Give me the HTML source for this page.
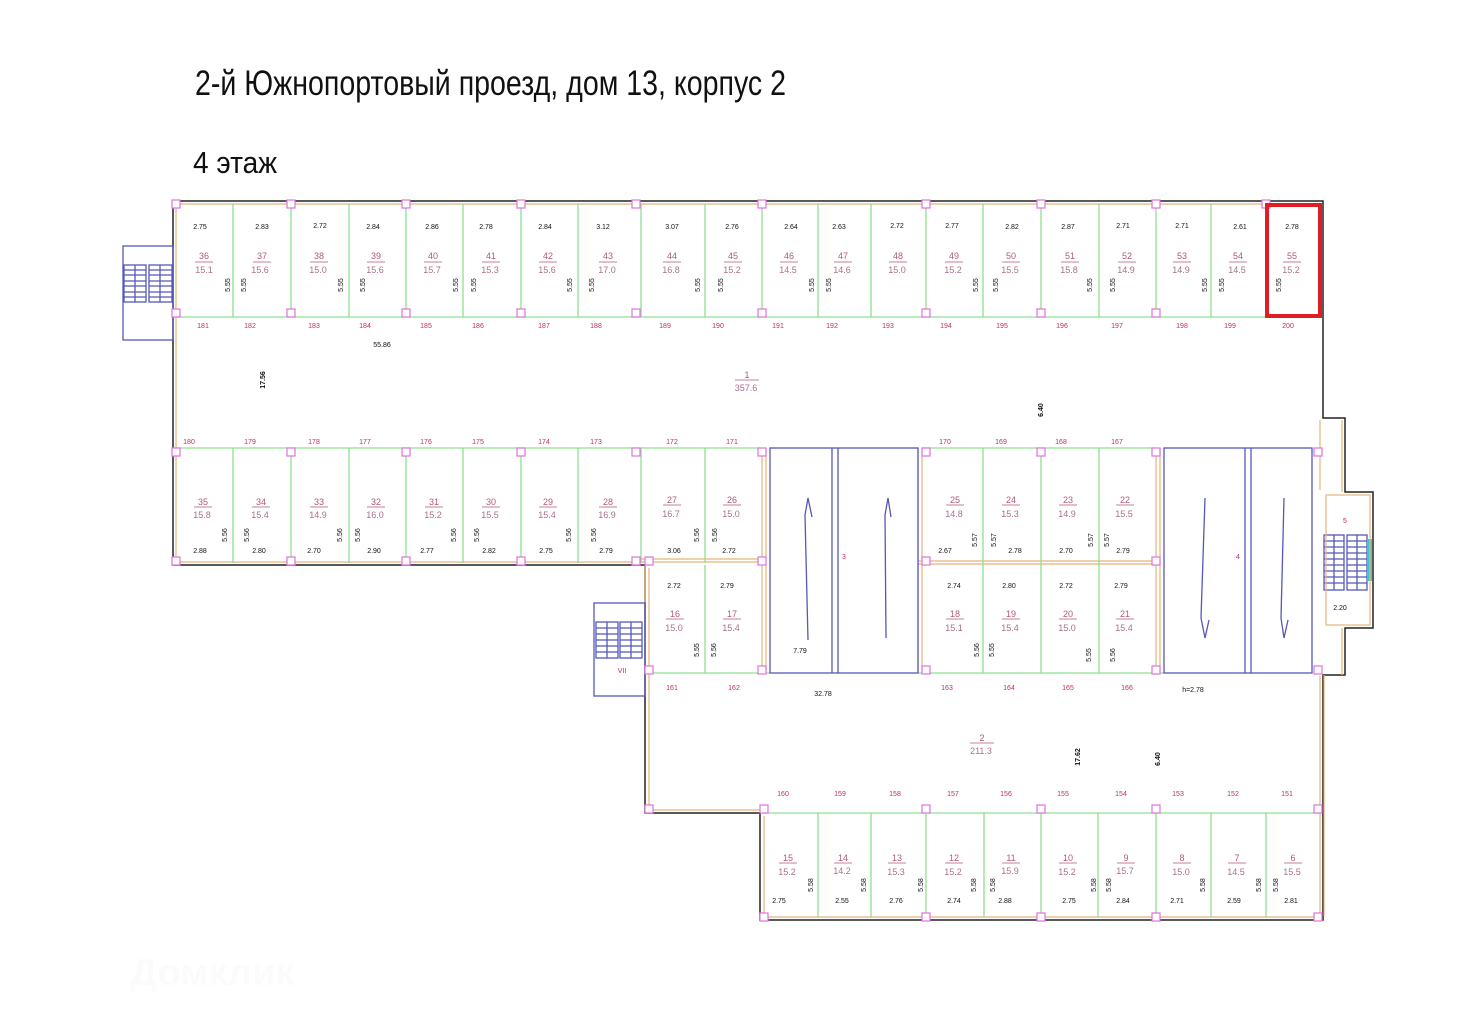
<!DOCTYPE html>
<html><head><meta charset="utf-8"><style>
html,body{margin:0;padding:0;background:#fff;}
svg{display:block;}
.t{font-family:"Liberation Sans",sans-serif;}
.n{font-size:9px;fill:#b05a78;text-anchor:middle;font-family:"Liberation Sans",sans-serif;}
.a{font-size:9px;fill:#a87090;text-anchor:middle;font-family:"Liberation Sans",sans-serif;}
.d{font-size:7px;fill:#111;text-anchor:middle;font-family:"Liberation Sans",sans-serif;}
.c{font-size:7px;fill:#c03050;text-anchor:middle;font-family:"Liberation Sans",sans-serif;}
.g{stroke:#8ee08e;stroke-width:1.3;}
.o{stroke:#e6b47a;fill:none;stroke-width:1.2;}
.b{stroke:#5558b8;fill:none;stroke-width:1.3;}
.p{fill:#fff;stroke:#e070e0;stroke-width:1.2;}
.u{stroke:#b05a78;stroke-width:0.8;}
</style></head><body>
<svg width="1467" height="1035" viewBox="0 0 1467 1035" xmlns="http://www.w3.org/2000/svg">
<text class="t" x="195" y="95" font-size="35" textLength="591" lengthAdjust="spacingAndGlyphs" fill="#111">2-й Южнопортовый проезд, дом 13, корпус 2</text>
<text class="t" x="193" y="173" font-size="31" textLength="84" lengthAdjust="spacingAndGlyphs" fill="#111">4 этаж</text>

<g fill="none" stroke="#222" stroke-width="1.5">
<path d="M173,201 H1323 V418 H1345 V492 H1373 V628 H1345 V675 H1323 V920 H760 V813 H645 V565 H173 Z"/>
</g>
<g class="o">
<path d="M176,204 H1320 V317"/><path d="M176,204 V562 H641"/>
<path d="M649,568 V810 H760"/><path d="M764,816 V917 H1320 V676"/>
<path d="M1320,420 V490 M1342,420 V492 M1324,675 V916 M1342,628 V675"/>
<path d="M641,562 H762 M645,565 V673"/>
<path d="M762,448 V673 M766,448 V673 M918,448 V673 M922,448 V673 M1156,448 V673 M1160,448 V673"/>
<path d="M918,561 H1160 M918,564 H1160 M641,559 H762"/>
</g>
<g class="g">
<path d="M176,317 H1320 M176,448 H762 M922,448 H1156 M645,673 H770 M918,673 H1164 M764,813 H1320"/>
<path d="M233,204V317 M291,204V317 M349,204V317 M406,204V317 M463,204V317 M521,204V317 M578,204V317 M641,204V317 M705,204V317 M762,204V317 M818,204V317 M871,204V317 M926,204V317 M983,204V317 M1041,204V317 M1099,204V317 M1156,204V317 M1211,204V317 M1267,204V317"/>
<path d="M233,448V563 M291,448V563 M349,448V563 M406,448V563 M463,448V563 M521,448V563 M578,448V563 M641,448V563 M705,448V563"/>
<path d="M983,448V673 M1041,448V673 M1099,448V673 M705,565V673"/>
<path d="M818,813V917 M871,813V917 M926,813V917 M984,813V917 M1041,813V917 M1098,813V917 M1156,813V917 M1211,813V917 M1266,813V917"/>
</g>
<g class="b">
<rect x="770" y="448" width="148" height="225"/><path d="M832,448V673 M838,448V673"/>
<rect x="1164" y="448" width="148" height="225"/><path d="M1245,448V673 M1251,448V673"/>
<path d="M808,640 L805,515 L808,498 L812,517"/><path d="M886,638 L885,515 L888,498 L891,517"/>
<path d="M1205,498 L1201,618 L1205,638 L1209,620"/><path d="M1284,498 L1281,618 L1284,638 L1288,620"/>
<rect x="123" y="246" width="50" height="94"/>
<rect x="124" y="265" width="22" height="37"/><rect x="149" y="265" width="23" height="37"/>
<path d="M124,270H146M124,275H146M124,281H146M124,286H146M124,292H146M124,297H146M149,270H172M149,275H172M149,281H172M149,286H172M149,292H172M149,297H172M135,265V302M160,265V302"/>
<rect x="594" y="603" width="51" height="93"/>
<rect x="596" y="622" width="22" height="36"/><rect x="620" y="622" width="22" height="36"/>
<path d="M596,628H618M596,634H618M596,640H618M596,646H618M596,652H618M620,628H642M620,634H642M620,640H642M620,646H642M620,652H642M607,622V658M631,622V658"/>
<rect x="1324" y="535" width="20" height="55"/><rect x="1347" y="535" width="20" height="55"/>
<path d="M1324,541H1344M1324,547H1344M1324,553H1344M1324,559H1344M1324,565H1344M1324,571H1344M1324,577H1344M1324,583H1344M1347,541H1367M1347,547H1367M1347,553H1367M1347,559H1367M1347,565H1367M1347,571H1367M1347,577H1367M1347,583H1367M1334,535V590M1357,535V590"/>
</g>
<rect x="1367" y="539" width="5" height="42" fill="#3cc8c8"/>
<rect x="1326" y="495" width="44" height="130" class="o"/>
<g class="p">
<rect x="172" y="200" width="8" height="8"/><rect x="287" y="200" width="8" height="8"/><rect x="402" y="200" width="8" height="8"/><rect x="517" y="200" width="8" height="8"/><rect x="632" y="200" width="8" height="8"/><rect x="758" y="200" width="8" height="8"/><rect x="922" y="200" width="8" height="8"/><rect x="1037" y="200" width="8" height="8"/><rect x="1152" y="200" width="8" height="8"/><rect x="1262" y="200" width="8" height="8"/>
<rect x="172" y="309" width="8" height="8"/><rect x="287" y="309" width="8" height="8"/><rect x="402" y="309" width="8" height="8"/><rect x="517" y="309" width="8" height="8"/><rect x="632" y="309" width="8" height="8"/><rect x="758" y="309" width="8" height="8"/><rect x="922" y="309" width="8" height="8"/><rect x="1037" y="309" width="8" height="8"/><rect x="1152" y="309" width="8" height="8"/>
<rect x="172" y="448" width="8" height="8"/><rect x="287" y="448" width="8" height="8"/><rect x="402" y="448" width="8" height="8"/><rect x="517" y="448" width="8" height="8"/><rect x="632" y="448" width="8" height="8"/><rect x="758" y="448" width="8" height="8"/><rect x="922" y="448" width="8" height="8"/><rect x="1037" y="448" width="8" height="8"/><rect x="1152" y="448" width="8" height="8"/><rect x="1314" y="448" width="8" height="8"/>
<rect x="172" y="557" width="8" height="8"/><rect x="287" y="557" width="8" height="8"/><rect x="402" y="557" width="8" height="8"/><rect x="517" y="557" width="8" height="8"/><rect x="632" y="557" width="8" height="8"/><rect x="645" y="557" width="8" height="8"/><rect x="758" y="557" width="8" height="8"/><rect x="922" y="557" width="8" height="8"/><rect x="1152" y="557" width="8" height="8"/>
<rect x="645" y="666" width="8" height="8"/><rect x="758" y="666" width="8" height="8"/><rect x="922" y="666" width="8" height="8"/><rect x="1152" y="666" width="8" height="8"/><rect x="1314" y="666" width="8" height="8"/>
<rect x="645" y="805" width="8" height="8"/><rect x="760" y="805" width="8" height="8"/><rect x="922" y="805" width="8" height="8"/><rect x="1037" y="805" width="8" height="8"/><rect x="1152" y="805" width="8" height="8"/><rect x="1314" y="805" width="8" height="8"/>
<rect x="760" y="913" width="8" height="8"/><rect x="922" y="913" width="8" height="8"/><rect x="1037" y="913" width="8" height="8"/><rect x="1152" y="913" width="8" height="8"/><rect x="1314" y="913" width="8" height="8"/>
</g>
<rect x="1267" y="205" width="53" height="111" fill="none" stroke="#e01c24" stroke-width="4"/>

<g>
<text class="d" x="200" y="229">2.75</text><text class="d" x="262" y="229">2.83</text><text class="d" x="320" y="228">2.72</text><text class="d" x="373" y="229">2.84</text><text class="d" x="432" y="229">2.86</text><text class="d" x="486" y="229">2.78</text><text class="d" x="545" y="229">2.84</text><text class="d" x="603" y="229">3.12</text><text class="d" x="672" y="229">3.07</text><text class="d" x="732" y="229">2.76</text><text class="d" x="791" y="229">2.64</text><text class="d" x="839" y="229">2.63</text><text class="d" x="897" y="228">2.72</text><text class="d" x="952" y="228">2.77</text><text class="d" x="1012" y="229">2.82</text><text class="d" x="1068" y="229">2.87</text><text class="d" x="1123" y="228">2.71</text><text class="d" x="1182" y="228">2.71</text><text class="d" x="1240" y="229">2.61</text><text class="d" x="1292" y="229">2.78</text>
</g>
<g>
<text class="n" x="204" y="259">36</text><text class="n" x="262" y="259">37</text><text class="n" x="319" y="259">38</text><text class="n" x="376" y="259">39</text><text class="n" x="433" y="259">40</text><text class="n" x="491" y="259">41</text><text class="n" x="548" y="259">42</text><text class="n" x="608" y="259">43</text><text class="n" x="672" y="259">44</text><text class="n" x="733" y="259">45</text><text class="n" x="789" y="259">46</text><text class="n" x="843" y="259">47</text><text class="n" x="898" y="259">48</text><text class="n" x="954" y="259">49</text><text class="n" x="1011" y="259">50</text><text class="n" x="1070" y="259">51</text><text class="n" x="1127" y="259">52</text><text class="n" x="1182" y="259">53</text><text class="n" x="1238" y="259">54</text><text class="n" x="1292" y="259">55</text>
<text class="a" x="204" y="273">15.1</text><text class="a" x="260" y="273">15.6</text><text class="a" x="318" y="273">15.0</text><text class="a" x="375" y="273">15.6</text><text class="a" x="432" y="273">15.7</text><text class="a" x="490" y="273">15.3</text><text class="a" x="547" y="273">15.6</text><text class="a" x="607" y="273">17.0</text><text class="a" x="671" y="273">16.8</text><text class="a" x="732" y="273">15.2</text><text class="a" x="788" y="273">14.5</text><text class="a" x="842" y="273">14.6</text><text class="a" x="897" y="273">15.0</text><text class="a" x="953" y="273">15.2</text><text class="a" x="1010" y="273">15.5</text><text class="a" x="1069" y="273">15.8</text><text class="a" x="1126" y="273">14.9</text><text class="a" x="1181" y="273">14.9</text><text class="a" x="1237" y="273">14.5</text><text class="a" x="1291" y="273">15.2</text>
</g>
<g class="u"><path d="M195,262h18M253,262h18M310,262h18M367,262h18M424,262h18M482,262h18M539,262h18M599,262h18M663,262h18M724,262h18M780,262h18M834,262h18M889,262h18M945,262h18M1002,262h18M1061,262h18M1118,262h18M1173,262h18M1229,262h18M1283,262h18"/></g>
<g class="d">
<text transform="translate(230,285) rotate(-90)">5.55</text><text transform="translate(246,285) rotate(-90)">5.55</text><text transform="translate(343,285) rotate(-90)">5.55</text><text transform="translate(365,285) rotate(-90)">5.55</text><text transform="translate(458,285) rotate(-90)">5.55</text><text transform="translate(476,285) rotate(-90)">5.55</text><text transform="translate(572,285) rotate(-90)">5.55</text><text transform="translate(594,285) rotate(-90)">5.55</text><text transform="translate(700,285) rotate(-90)">5.55</text><text transform="translate(723,285) rotate(-90)">5.55</text><text transform="translate(814,285) rotate(-90)">5.55</text><text transform="translate(831,285) rotate(-90)">5.55</text><text transform="translate(978,285) rotate(-90)">5.55</text><text transform="translate(998,285) rotate(-90)">5.55</text><text transform="translate(1092,285) rotate(-90)">5.55</text><text transform="translate(1115,285) rotate(-90)">5.55</text><text transform="translate(1207,285) rotate(-90)">5.55</text><text transform="translate(1224,285) rotate(-90)">5.55</text><text transform="translate(1281,285) rotate(-90)">5.55</text>
</g>
<g>
<text class="c" x="203" y="328">181</text><text class="c" x="250" y="328">182</text><text class="c" x="314" y="328">183</text><text class="c" x="365" y="328">184</text><text class="c" x="426" y="328">185</text><text class="c" x="478" y="328">186</text><text class="c" x="544" y="328">187</text><text class="c" x="596" y="328">188</text><text class="c" x="665" y="328">189</text><text class="c" x="718" y="328">190</text><text class="c" x="778" y="328">191</text><text class="c" x="832" y="328">192</text><text class="c" x="888" y="328">193</text><text class="c" x="946" y="328">194</text><text class="c" x="1002" y="328">195</text><text class="c" x="1062" y="328">196</text><text class="c" x="1117" y="328">197</text><text class="c" x="1182" y="328">198</text><text class="c" x="1230" y="328">199</text><text class="c" x="1288" y="328">200</text>
<text class="c" x="189" y="444">180</text><text class="c" x="250" y="444">179</text><text class="c" x="314" y="444">178</text><text class="c" x="365" y="444">177</text><text class="c" x="426" y="444">176</text><text class="c" x="478" y="444">175</text><text class="c" x="544" y="444">174</text><text class="c" x="596" y="444">173</text><text class="c" x="672" y="444">172</text><text class="c" x="732" y="444">171</text><text class="c" x="945" y="444">170</text><text class="c" x="1001" y="444">169</text><text class="c" x="1061" y="444">168</text><text class="c" x="1117" y="444">167</text>
<text class="d" x="382" y="347">55.86</text>
<text class="d" transform="translate(265,380) rotate(-90)" font-weight="bold">17.56</text>
<text class="d" transform="translate(1043,410) rotate(-90)" font-weight="bold">6.40</text>
<text class="n" x="747" y="378">1</text><path d="M735,380h24" class="u"/><text class="a" x="746" y="391">357.6</text>
</g>
<g>
<text class="n" x="203" y="505">35</text><text class="n" x="261" y="505">34</text><text class="n" x="319" y="505">33</text><text class="n" x="376" y="505">32</text><text class="n" x="434" y="505">31</text><text class="n" x="491" y="505">30</text><text class="n" x="548" y="505">29</text><text class="n" x="608" y="505">28</text><text class="n" x="672" y="503">27</text><text class="n" x="732" y="503">26</text>
<text class="a" x="202" y="518">15.8</text><text class="a" x="260" y="518">15.4</text><text class="a" x="318" y="518">14.9</text><text class="a" x="375" y="518">16.0</text><text class="a" x="433" y="518">15.2</text><text class="a" x="490" y="518">15.5</text><text class="a" x="547" y="518">15.4</text><text class="a" x="607" y="518">16.9</text><text class="a" x="671" y="517">16.7</text><text class="a" x="731" y="517">15.0</text>
<text class="d" x="200" y="553">2.88</text><text class="d" x="259" y="553">2.80</text><text class="d" x="314" y="553">2.70</text><text class="d" x="374" y="553">2.90</text><text class="d" x="427" y="553">2.77</text><text class="d" x="489" y="553">2.82</text><text class="d" x="546" y="553">2.75</text><text class="d" x="606" y="553">2.79</text><text class="d" x="674" y="553">3.06</text><text class="d" x="729" y="553">2.72</text>
</g>
<g class="u"><path d="M194,507h18M252,507h18M310,507h18M367,507h18M425,507h18M482,507h18M539,507h18M599,507h18M663,505h18M723,505h18"/></g>
<g class="d">
<text transform="translate(227,535) rotate(-90)">5.56</text><text transform="translate(249,535) rotate(-90)">5.56</text><text transform="translate(342,535) rotate(-90)">5.56</text><text transform="translate(360,535) rotate(-90)">5.56</text><text transform="translate(456,535) rotate(-90)">5.56</text><text transform="translate(479,535) rotate(-90)">5.56</text><text transform="translate(571,535) rotate(-90)">5.56</text><text transform="translate(596,535) rotate(-90)">5.56</text><text transform="translate(699,535) rotate(-90)">5.56</text><text transform="translate(717,535) rotate(-90)">5.56</text>
<text transform="translate(977,540) rotate(-90)">5.57</text><text transform="translate(996,540) rotate(-90)">5.57</text><text transform="translate(1093,540) rotate(-90)">5.57</text><text transform="translate(1109,540) rotate(-90)">5.57</text>
<text transform="translate(699,650) rotate(-90)">5.55</text><text transform="translate(716,650) rotate(-90)">5.56</text>
<text transform="translate(979,650) rotate(-90)">5.56</text><text transform="translate(994,650) rotate(-90)">5.55</text><text transform="translate(1091,655) rotate(-90)">5.55</text><text transform="translate(1115,655) rotate(-90)">5.56</text>
</g>
<g>
<text class="n" x="955" y="503">25</text><text class="n" x="1011" y="503">24</text><text class="n" x="1068" y="503">23</text><text class="n" x="1125" y="503">22</text>
<text class="a" x="954" y="517">14.8</text><text class="a" x="1010" y="517">15.3</text><text class="a" x="1067" y="517">14.9</text><text class="a" x="1124" y="517">15.5</text>
<text class="d" x="945" y="553">2.67</text><text class="d" x="1015" y="553">2.78</text><text class="d" x="1066" y="553">2.70</text><text class="d" x="1123" y="553">2.79</text>
<text class="d" x="954" y="588">2.74</text><text class="d" x="1009" y="588">2.80</text><text class="d" x="1066" y="588">2.72</text><text class="d" x="1121" y="588">2.79</text>
<text class="n" x="955" y="617">18</text><text class="n" x="1011" y="617">19</text><text class="n" x="1068" y="617">20</text><text class="n" x="1125" y="617">21</text>
<text class="a" x="954" y="631">15.1</text><text class="a" x="1010" y="631">15.4</text><text class="a" x="1067" y="631">15.0</text><text class="a" x="1124" y="631">15.4</text>
<text class="d" x="674" y="588">2.72</text><text class="d" x="727" y="588">2.79</text>
<text class="n" x="675" y="617">16</text><text class="n" x="732" y="617">17</text>
<text class="a" x="674" y="631">15.0</text><text class="a" x="731" y="631">15.4</text>
<text class="c" x="844" y="559" fill="#c05070">3</text><text class="c" x="1238" y="559">4</text><text class="c" x="1345" y="523" font-size="9">5</text>
<text class="d" x="800" y="653">7.79</text><text class="d" x="1340" y="610">2.20</text>
<text class="c" x="622" y="673" font-size="9">VII</text>
</g>
<g class="u"><path d="M946,505h18M1002,505h18M1059,505h18M1116,505h18M946,619h18M1002,619h18M1059,619h18M1116,619h18M666,619h18M723,619h18"/></g>
<g>
<text class="c" x="672" y="690">161</text><text class="c" x="734" y="690">162</text><text class="c" x="947" y="690">163</text><text class="c" x="1009" y="690">164</text><text class="c" x="1068" y="690">165</text><text class="c" x="1127" y="690">166</text>
<text class="d" x="823" y="696">32.78</text><text class="d" x="1193" y="692" fill="#4050a0">h=2.78</text>
<text class="n" x="982" y="741">2</text><path d="M970,743h24" class="u"/><text class="a" x="981" y="754">211.3</text>
<text class="d" transform="translate(1080,757) rotate(-90)" font-weight="bold">17.62</text>
<text class="d" transform="translate(1160,759) rotate(-90)" font-weight="bold">6.40</text>
<text class="c" x="783" y="796">160</text><text class="c" x="840" y="796">159</text><text class="c" x="895" y="796">158</text><text class="c" x="953" y="796">157</text><text class="c" x="1006" y="796">156</text><text class="c" x="1063" y="796">155</text><text class="c" x="1121" y="796">154</text><text class="c" x="1178" y="796">153</text><text class="c" x="1233" y="796">152</text><text class="c" x="1287" y="796">151</text>
<text class="n" x="788" y="861">15</text><text class="n" x="843" y="861">14</text><text class="n" x="897" y="861">13</text><text class="n" x="954" y="861">12</text><text class="n" x="1011" y="861">11</text><text class="n" x="1068" y="861">10</text><text class="n" x="1126" y="861">9</text><text class="n" x="1182" y="861">8</text><text class="n" x="1237" y="861">7</text><text class="n" x="1293" y="861">6</text>
<text class="a" x="787" y="875">15.2</text><text class="a" x="842" y="874">14.2</text><text class="a" x="896" y="875">15.3</text><text class="a" x="953" y="875">15.2</text><text class="a" x="1010" y="874">15.9</text><text class="a" x="1067" y="875">15.2</text><text class="a" x="1125" y="874">15.7</text><text class="a" x="1181" y="875">15.0</text><text class="a" x="1236" y="875">14.5</text><text class="a" x="1292" y="875">15.5</text>
<text class="d" x="779" y="903">2.75</text><text class="d" x="842" y="903">2.55</text><text class="d" x="896" y="903">2.76</text><text class="d" x="954" y="903">2.74</text><text class="d" x="1005" y="903">2.88</text><text class="d" x="1069" y="903">2.75</text><text class="d" x="1123" y="903">2.84</text><text class="d" x="1177" y="903">2.71</text><text class="d" x="1234" y="903">2.59</text><text class="d" x="1291" y="903">2.81</text>
</g>
<g class="u"><path d="M779,863h18M834,863h18M888,863h18M945,863h18M1002,863h18M1059,863h18M1117,863h18M1173,863h18M1228,863h18M1284,863h18"/></g>
<g class="d">
<text transform="translate(813,885) rotate(-90)">5.58</text><text transform="translate(866,885) rotate(-90)">5.58</text><text transform="translate(923,885) rotate(-90)">5.58</text><text transform="translate(976,885) rotate(-90)">5.58</text><text transform="translate(995,885) rotate(-90)">5.58</text><text transform="translate(1096,885) rotate(-90)">5.58</text><text transform="translate(1111,885) rotate(-90)">5.58</text><text transform="translate(1205,885) rotate(-90)">5.58</text><text transform="translate(1261,885) rotate(-90)">5.58</text><text transform="translate(1278,885) rotate(-90)">5.58</text>
</g>
<text class="t" x="130" y="985" font-size="38" font-weight="bold" fill="#fbfbfb">Домклик</text>
</svg>
</body></html>
